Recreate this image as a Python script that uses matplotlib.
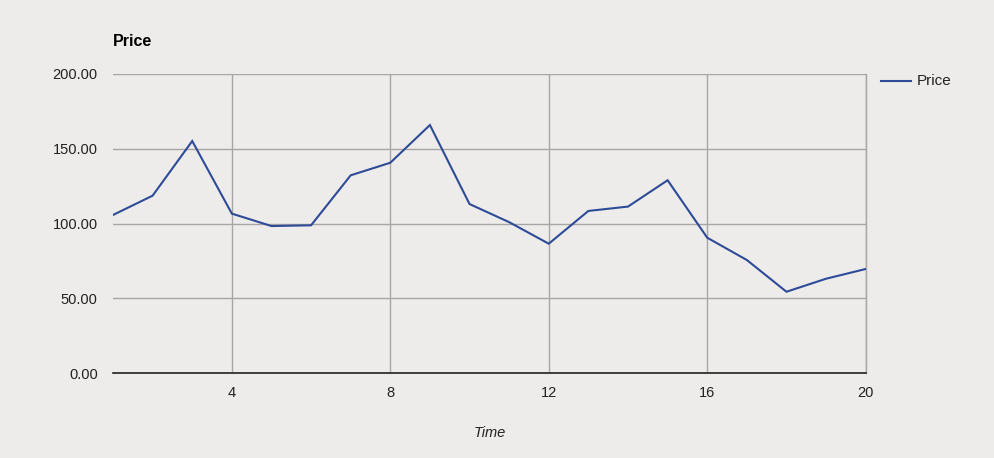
import matplotlib
matplotlib.use("Agg")
import matplotlib.pyplot as plt
from matplotlib.lines import Line2D

plt.rcParams['font.family'] = ['Liberation Sans', 'DejaVu Sans']

time = list(range(1, 21))
price = [105.8, 118.7, 155.2, 106.7, 98.4, 98.9, 132.3, 140.7, 165.9, 113.1,
         101.0, 86.6, 108.5, 111.4, 129.0, 90.6, 75.7, 54.5, 63.2, 69.7]
yticks = [0, 50, 100, 150, 200]
xticks = [4, 8, 12, 16, 20]

bg = '#eeecea'
line_color = '#2e4b98'
grid_color = '#a8a6a4'

fig = plt.figure(figsize=(9.95, 4.58), dpi=100, facecolor=bg)
ax = fig.add_axes([113/995, 1-373.3/458, (865.7-113)/995, (373.3-74)/458])
ax.set_facecolor(bg)

ax.plot(time, price, color=line_color, linewidth=1.5, solid_joinstyle='miter', zorder=3)

ax.set_xlim(1, 20)
ax.set_ylim(0, 200)
ax.set_xticks(xticks)
ax.set_yticks(yticks)
ax.set_yticklabels([f"{v:.2f}" for v in yticks])
ax.grid(True, color=grid_color, linewidth=1.0, zorder=1)
for s in ['top', 'left']:
    ax.spines[s].set_visible(False)
ax.spines['right'].set_color(grid_color)
ax.spines['right'].set_linewidth(1.0)
ax.spines['bottom'].set_color('#222222')
ax.spines['bottom'].set_linewidth(1.2)
ax.spines['bottom'].set_zorder(4)
ax.tick_params(axis='both', length=0, labelsize=10.5, colors='#222222')
ax.tick_params(axis='y', pad=11)
ax.tick_params(axis='x', pad=9)

ax.set_xlabel('Time', fontstyle='italic', fontsize=10.5, color='#222222', labelpad=19)
fig.text(113/995, 1-42/458, 'Price', fontweight='bold', fontsize=11.5,
         ha='left', va='center', color='#000000')

# legend
fig.add_artist(Line2D([881/995, 911/995], [1-81/458, 1-81/458], color=line_color,
                      linewidth=1.5, transform=fig.transFigure))
fig.text(917/995, 1-81/458, 'Price', fontsize=11, ha='left', va='center', color='#222222')

fig.savefig('out.png', dpi=100, facecolor=bg)
